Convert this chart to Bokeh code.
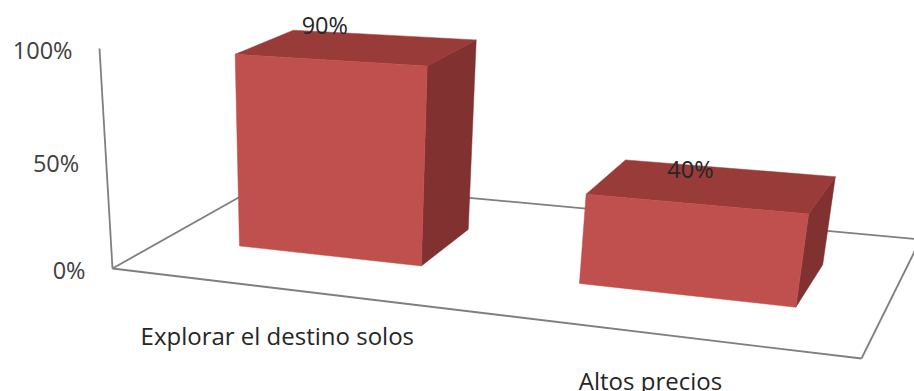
import numpy as np
from bokeh.plotting import figure
from bokeh.models import Range1d
from bokeh.core.properties import value
from bokeh.embed import file_html
from bokeh.resources import INLINE

# ---------------- data ----------------
categories = ["Explorar el destino solos", "Altos precios"]
values = [0.90, 0.40]
value_labels = ["90%", "40%"]
y_ticks = [0.0, 0.5, 1.0]
y_tick_labels = ["0%", "50%", "100%"]

# ---------------- 3D frame geometry (screen px) ----------------
W, HGT = 914, 391
floor_front_left = (112, 268)
floor_front_right = (861, 358)
floor_back_right = (920, 239)
floor_back_left = (270, 179)
axis_top_y = 48
vertical_vp = (319, 3770)

def homography(dst):
    src = [(0, 0), (1, 0), (1, 1), (0, 1)]
    A, b = [], []
    for (u, v), (x, y) in zip(src, dst):
        A.append([u, v, 1, 0, 0, 0, -u * x, -v * x]); b.append(x)
        A.append([0, 0, 0, u, v, 1, -u * y, -v * y]); b.append(y)
    h = np.linalg.solve(np.array(A, float), np.array(b, float))
    return np.append(h, 1.0).reshape(3, 3)

Hm = homography([floor_front_left, floor_front_right, floor_back_right, floor_back_left])
k = (axis_top_y - Hm[1, 2]) / (vertical_vp[1] - axis_top_y)
Vh = np.array([vertical_vp[0], vertical_vp[1], 1.0])

def proj(X, Y, Z):
    p = Hm @ np.array([X, Z, 1.0]) + Y * k * Vh
    return p[0] / p[2], p[1] / p[2]

# bar layout in world units
n = len(categories)
bar_width = 0.278
z_front, z_back = 0.31, 0.68
centers = [(i + 0.515) / n for i in range(n)]

FRONT = "#C0504D"
TOP = "#983B39"
SIDE = "#813130"

p = figure(width=W, height=HGT, x_range=Range1d(0, W), y_range=Range1d(HGT, 0),
           output_backend="svg", toolbar_location=None, min_border=0)
p.axis.visible = False
p.grid.visible = False
p.outline_line_color = None
p.background_fill_color = "white"
p.border_fill_color = "white"

# floor edges + vertical axis
fx, fy = [], []
for a, b in [((0, 1), (1, 1)), ((0, 0), (0, 1)), ((1, 0), (1, 1)), ((0, 0), (1, 0))]:
    x0, y0 = proj(a[0], 0, a[1]); x1, y1 = proj(b[0], 0, b[1])
    fx.append([x0, x1]); fy.append([y0, y1])
ax0 = proj(0, 0, 0); ax1 = proj(0, max(y_ticks), 0)
fx.append([ax0[0], ax1[0]]); fy.append([ax0[1], ax1[1]])
p.multi_line(fx, fy, line_color="#7F7F7F", line_width=1.8)

# bars
xs, ys, cols = [], [], []
for xc, v in zip(centers, values):
    x0, x1 = xc - bar_width / 2, xc + bar_width / 2
    faces = [
        ([(x1, 0, z_front), (x1, 0, z_back), (x1, v, z_back), (x1, v, z_front)], SIDE),
        ([(x0, v, z_front), (x1, v, z_front), (x1, v, z_back), (x0, v, z_back)], TOP),
        ([(x0, 0, z_front), (x1, 0, z_front), (x1, v, z_front), (x0, v, z_front)], FRONT),
    ]
    for pts, c in faces:
        pp = [proj(*q) for q in pts]
        xs.append([q[0] for q in pp]); ys.append([q[1] for q in pp]); cols.append(c)
p.patches(xs=xs, ys=ys, fill_color=cols, line_color=cols, line_width=0.5)

# tick labels
tx, ty = [], []
for t in y_ticks:
    x, y = proj(0, t, 0)
    tx.append(x - 27); ty.append(y + 1)
p.text(tx, ty, text=y_tick_labels, text_align="right", text_baseline="alphabetic",
       text_font=value("Open Sans"), text_font_size=value("23.5px"), text_color="#404040")

# value labels
vx, vy = [], []
for xc, v in zip(centers, values):
    x, y = proj(xc, v, z_front)
    vx.append(x - 4); vy.append(y - 35)
p.text(vx, vy, text=value_labels, text_align="center", text_baseline="alphabetic",
       text_font=value("Open Sans"), text_font_size=value("23.5px"), text_color="#262626")

# category labels
cx, cy = [], []
for xc in centers:
    x, y = proj(xc, 0, 0)
    cx.append(x - 3); cy.append(y + 47)
p.text(cx, cy, text=categories, text_align="center", text_baseline="alphabetic",
       text_font=value("Open Sans"), text_font_size=value("24px"), text_color="#262626")

open("out.html", "w").write(file_html(p, INLINE))
